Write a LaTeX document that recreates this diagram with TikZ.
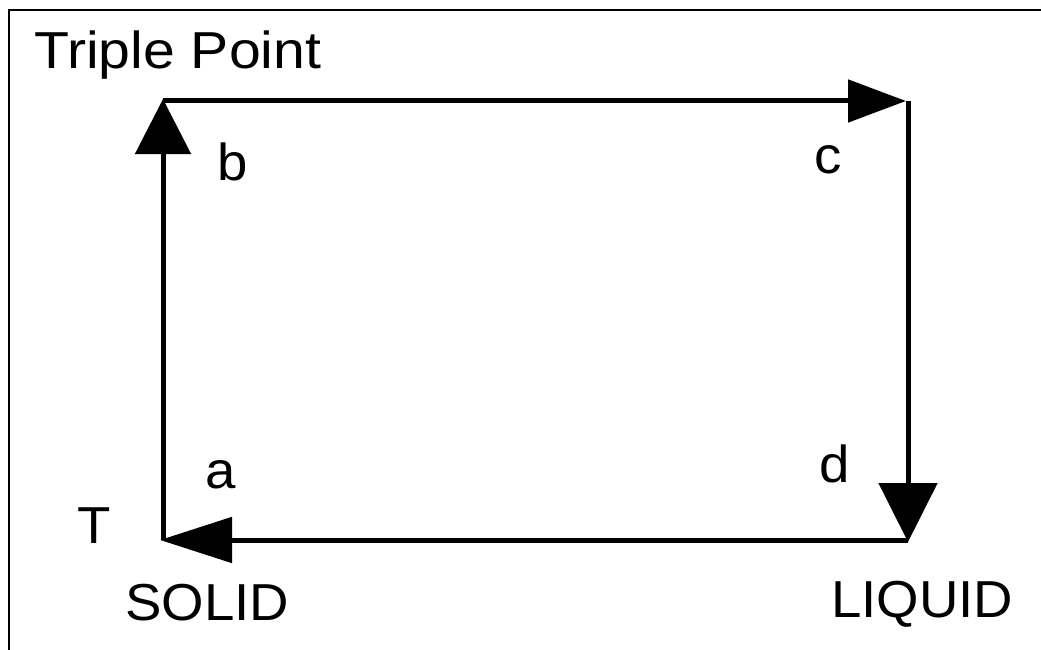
\documentclass[tikz,border=0pt]{standalone}
\usepackage{fontspec}
\setmainfont{Liberation Sans}[FakeStretch=1.05]
\newfontfamily\tpfont{Liberation Sans}[FakeStretch=1.1]
\usetikzlibrary{arrows.meta}
\tikzset{
  lbl/.style = {anchor=base west, inner sep=0pt, font=\fontsize{52}{60}\selectfont},
  flow/.style = {line width=5pt, black},
  frame/.style = {line width=2pt, black},
}

\begin{document}
\begin{tikzpicture}[x=1pt,y=-1pt]
\useasboundingbox (0,0) rectangle (1041,650);
\coordinate (fbot) at (9,650);
\coordinate (fcorner) at (9,10);
\coordinate (fright) at (1041,10);
\draw [frame] (fbot) -- (fcorner) -- (fright);
% corners of the cycle
\coordinate (sol) at (163,540);
\coordinate (trip) at (163,101);
\coordinate (ctop) at (908,101);
\coordinate (liq) at (908,540);
\coordinate (tipA) at (163,99);
\coordinate (tipB) at (906,101);
\coordinate (tipC) at (908,542);
\coordinate (tipD) at (160,540);
\draw [flow, -{Triangle[length=55pt,width=55pt]}] (sol) -- (tipA);
\draw [flow, -{Triangle[length=58pt,width=42pt]}] (trip) -- (tipB);
\draw [flow, -{Triangle[length=59pt,width=58pt]}] (ctop) -- (tipC);
\draw [flow, -{Triangle[length=72pt,width=45pt]}] (liq) -- (tipD);
\node [lbl, font=\tpfont\fontsize{52}{60}\selectfont] (tp) at (34,69) {Triple Point};
\node [lbl] (b) at (217,180) {b};
\node [lbl] (c) at (814,173) {c};
\node [lbl] (a) at (205,488) {a};
\node [lbl] (d) at (819,482) {d};
\node [lbl] (T) at (77,543) {T};
\node [lbl] (solid) at (125,620) {SOLID};
\node [lbl] (liquid) at (831,617) {LIQUID};
\end{tikzpicture}
\end{document}
